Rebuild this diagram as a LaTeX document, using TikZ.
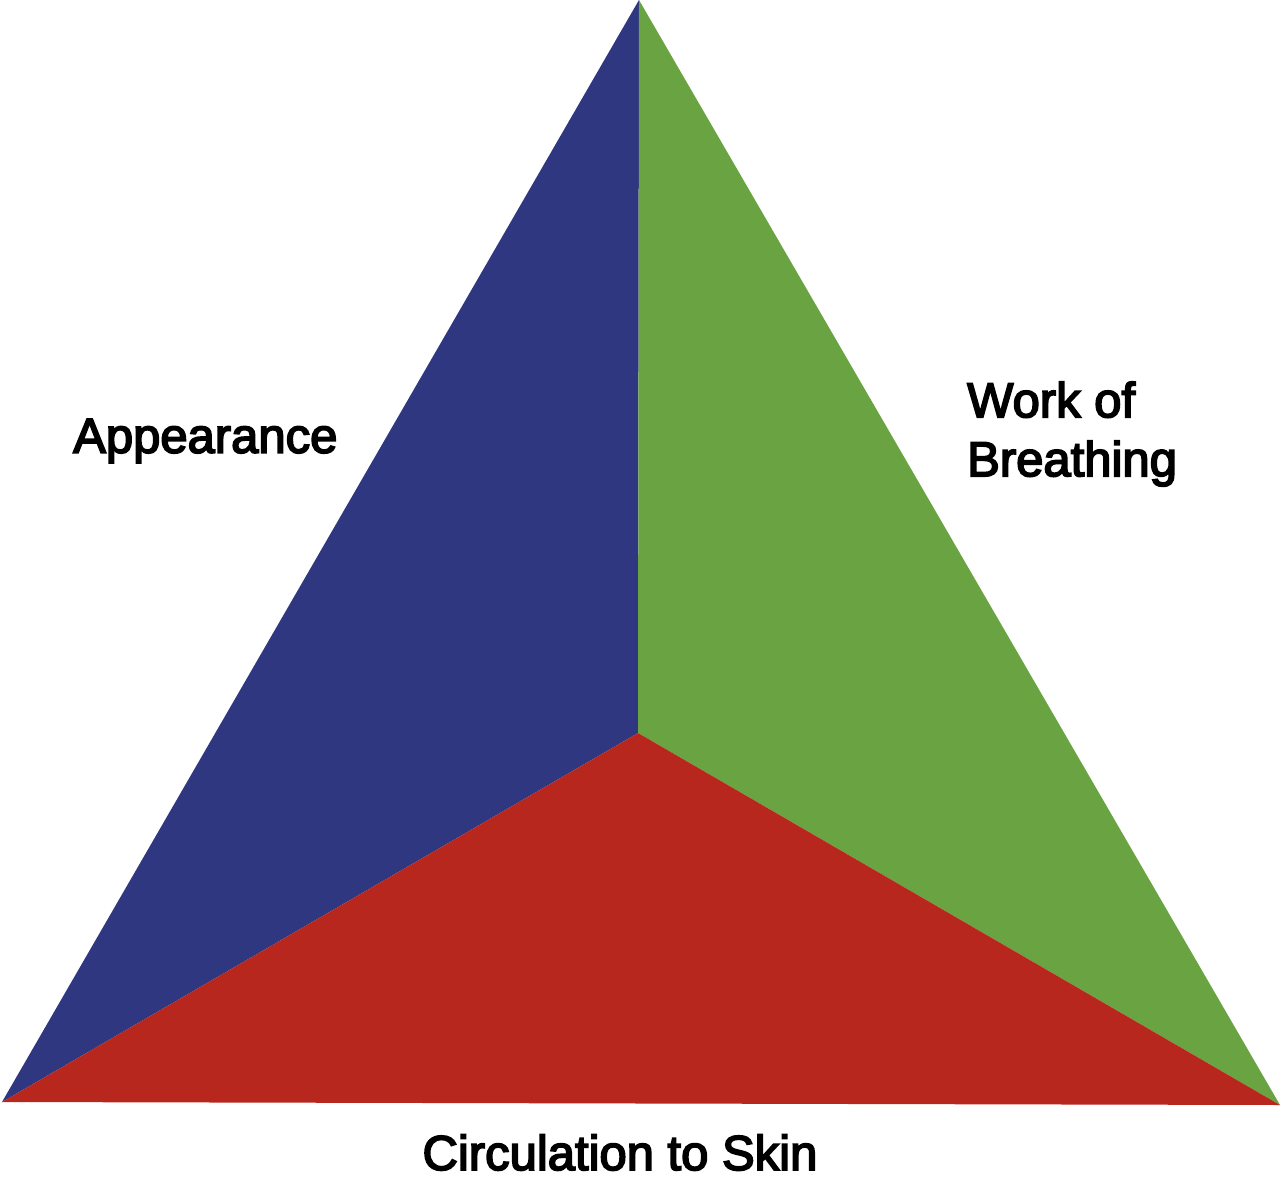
\documentclass[tikz,border=0pt]{standalone}
\usepackage{fontspec}
\setmainfont{Liberation Sans}
\newfontfamily\heavyfont{Liberation Sans}[FakeBold=3.5]
\definecolor{cblue}{HTML}{2E3780}
\definecolor{cgreen}{HTML}{6AA341}
\definecolor{cred}{HTML}{B8271E}
\tikzset{lbl/.style={font=\heavyfont\fontsize{49}{59}\selectfont, inner sep=0pt, align=left, text=black}}
\begin{document}
\begin{tikzpicture}[x=1pt,y=-1pt]
\useasboundingbox (0,0) rectangle (1280,1178);
\coordinate (top) at (639,0);
\coordinate (bl) at (2,1102);
\coordinate (br) at (1280,1105);
\coordinate (c) at (638,733);
\fill[cblue] (top) -- (c) -- (bl) -- cycle;
\fill[cgreen] (top) -- (br) -- (c) -- cycle;
\fill[cred] (c) -- (br) -- (bl) -- cycle;
\node[lbl, anchor=west] (app) at (73,441) {Appearance};
\node[lbl, anchor=west] (wob) at (967,434) {Work of\\Breathing};
\node[lbl, text depth=0pt, anchor=base] (circ) at (620,1170) {Circulation to Skin};
\end{tikzpicture}
\end{document}
